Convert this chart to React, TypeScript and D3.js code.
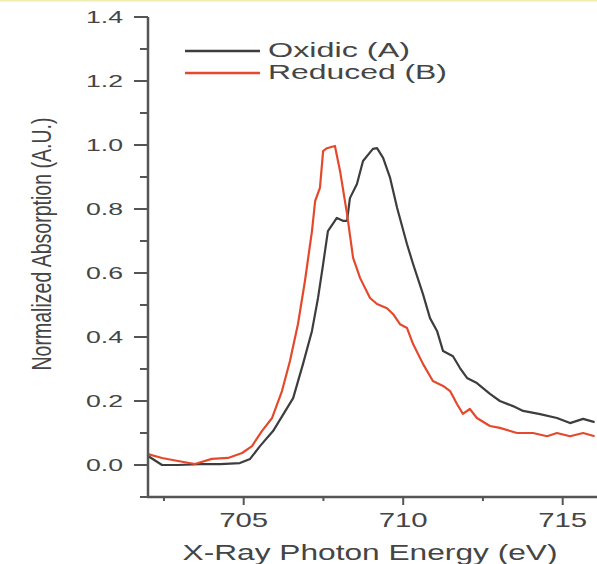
import React from "react";
import * as d3 from "d3";

const oxidicX = [702.0, 702.44, 702.94, 703.63, 704.26, 704.88, 705.2, 705.51, 705.92, 706.55, 706.86, 707.14, 707.33, 707.49, 707.64, 707.92, 708.11, 708.24, 708.33, 708.55, 708.74, 709.05, 709.18, 709.37, 709.59, 709.81, 710.12, 710.31, 710.62, 710.84, 711.06, 711.25, 711.56, 711.78, 712.0, 712.31, 712.72, 713.03, 713.44, 713.76, 714.29, 714.82, 715.23, 715.64, 716.0];
const oxidicY = [0.028, 0.0, 0.0, 0.003, 0.003, 0.006, 0.019, 0.059, 0.106, 0.209, 0.316, 0.419, 0.522, 0.628, 0.731, 0.772, 0.763, 0.763, 0.834, 0.878, 0.95, 0.988, 0.99, 0.96, 0.897, 0.803, 0.69, 0.628, 0.534, 0.459, 0.419, 0.356, 0.34, 0.303, 0.272, 0.256, 0.222, 0.2, 0.184, 0.169, 0.159, 0.147, 0.131, 0.144, 0.134];

const reducedX = [702.0, 702.44, 702.94, 703.47, 704.0, 704.51, 704.95, 705.26, 705.57, 705.89, 706.2, 706.45, 706.7, 706.92, 707.14, 707.24, 707.39, 707.49, 707.61, 707.86, 708.02, 708.24, 708.43, 708.65, 708.96, 709.18, 709.49, 709.68, 709.9, 710.12, 710.31, 710.62, 710.93, 711.25, 711.47, 711.69, 711.87, 712.09, 712.31, 712.72, 713.03, 713.57, 714.07, 714.51, 714.82, 715.23, 715.64, 716.0];
const reducedY = [0.034, 0.022, 0.0125, 0.003, 0.019, 0.022, 0.0375, 0.059, 0.106, 0.147, 0.231, 0.325, 0.44, 0.575, 0.731, 0.825, 0.866, 0.981, 0.99, 0.997, 0.919, 0.784, 0.647, 0.584, 0.522, 0.503, 0.49, 0.472, 0.44, 0.428, 0.378, 0.316, 0.2625, 0.247, 0.231, 0.19, 0.16, 0.175, 0.147, 0.122, 0.116, 0.1, 0.1, 0.09, 0.1, 0.09, 0.1, 0.09];

const xMajorTicks = [705, 710, 715];
const xMinorTicks = [702.5, 707.5, 712.5];
const yMajorTicks = [0.0, 0.2, 0.4, 0.6, 0.8, 1.0, 1.2, 1.4];
const yMinorTicks = [-0.1, 0.1, 0.3, 0.5, 0.7, 0.9, 1.1, 1.3];

const seriesNames = ["Oxidic (A)", "Reduced (B)"];
const seriesColors = ["#3d3d3d", "#e5492c"];

export default function App() {
  const W = 597, H = 564;
  const x = d3.scaleLinear().domain([702, 716]).range([148, 594.6]);
  const y = d3.scaleLinear().domain([-0.1, 1.4]).range([497, 17]);
  const line = d3.line<[number, number]>().x(d => x(d[0])).y(d => y(d[1]));
  const ox: [number, number][] = oxidicX.map((v, i) => [v, oxidicY[i]]);
  const rd: [number, number][] = reducedX.map((v, i) => [v, reducedY[i]]);
  const axisColor = "#555";
  const textColor = "#454545";
  const font = "Liberation Sans, Arial, sans-serif";
  return (
    <svg width={W} height={H} style={{ position: "absolute", left: 0, top: 0, background: "#fff" }}>
      <rect x={0} y={0} width={W} height={H} fill="#fff" />
      <rect x={0} y={0} width={W} height={1.5} fill="#f1ecb0" />
      {/* curves */}
      <path d={line(ox) || ""} fill="none" stroke={seriesColors[0]} strokeWidth={2.2} strokeLinejoin="round" />
      <path d={line(rd) || ""} fill="none" stroke={seriesColors[1]} strokeWidth={2.2} strokeLinejoin="round" />
      {/* axes */}
      <line x1={148} x2={148} y1={y(1.4)} y2={498} stroke={axisColor} strokeWidth={2.5} />
      <line x1={147} x2={W} y1={497} y2={497} stroke={axisColor} strokeWidth={2.5} />
      {yMajorTicks.map(t => (
        <g key={"ym" + t}>
          <line x1={134} x2={148} y1={y(t)} y2={y(t)} stroke={axisColor} strokeWidth={2} />
          <text x={123} y={y(t)} dy="0.36em" textAnchor="end" fontSize={16} fill={textColor}
            fontFamily={font} textLength={37} lengthAdjust="spacingAndGlyphs">{t.toFixed(1)}</text>
        </g>
      ))}
      {yMinorTicks.map(t => (
        <line key={"yn" + t} x1={140} x2={148} y1={y(t)} y2={y(t)} stroke={axisColor} strokeWidth={2} />
      ))}
      {xMajorTicks.map(t => (
        <g key={"xm" + t}>
          <line x1={x(t)} x2={x(t)} y1={497} y2={505} stroke={axisColor} strokeWidth={2} />
          <text x={x(t)} y={527} textAnchor="middle" fontSize={21} fill={textColor}
            fontFamily={font} textLength={49} lengthAdjust="spacingAndGlyphs">{t}</text>
        </g>
      ))}
      {xMinorTicks.map(t => (
        <line key={"xn" + t} x1={x(t)} x2={x(t)} y1={497} y2={501} stroke={axisColor} strokeWidth={2} />
      ))}
      <text x={370} y={560} textAnchor="middle" fontSize={22} fill={textColor} fontFamily={font}
        textLength={375} lengthAdjust="spacingAndGlyphs">X-Ray Photon Energy (eV)</text>
      <text transform="translate(51,244) rotate(-90)" textAnchor="middle" fontSize={27} fill={textColor}
        fontFamily={font} textLength={253} lengthAdjust="spacingAndGlyphs">Normalized Absorption (A.U.)</text>
      {/* legend */}
      {seriesNames.map((n, i) => {
        const ly = i === 0 ? 51 : 73;
        return (
          <g key={n}>
            <line x1={185} x2={260} y1={ly} y2={ly} stroke={seriesColors[i]} strokeWidth={2.5} />
            <text x={268} y={ly + 6} fontSize={20} fill={textColor} fontFamily={font}
              textLength={i === 0 ? 142 : 179} lengthAdjust="spacingAndGlyphs">{n}</text>
          </g>
        );
      })}
    </svg>
  );
}
